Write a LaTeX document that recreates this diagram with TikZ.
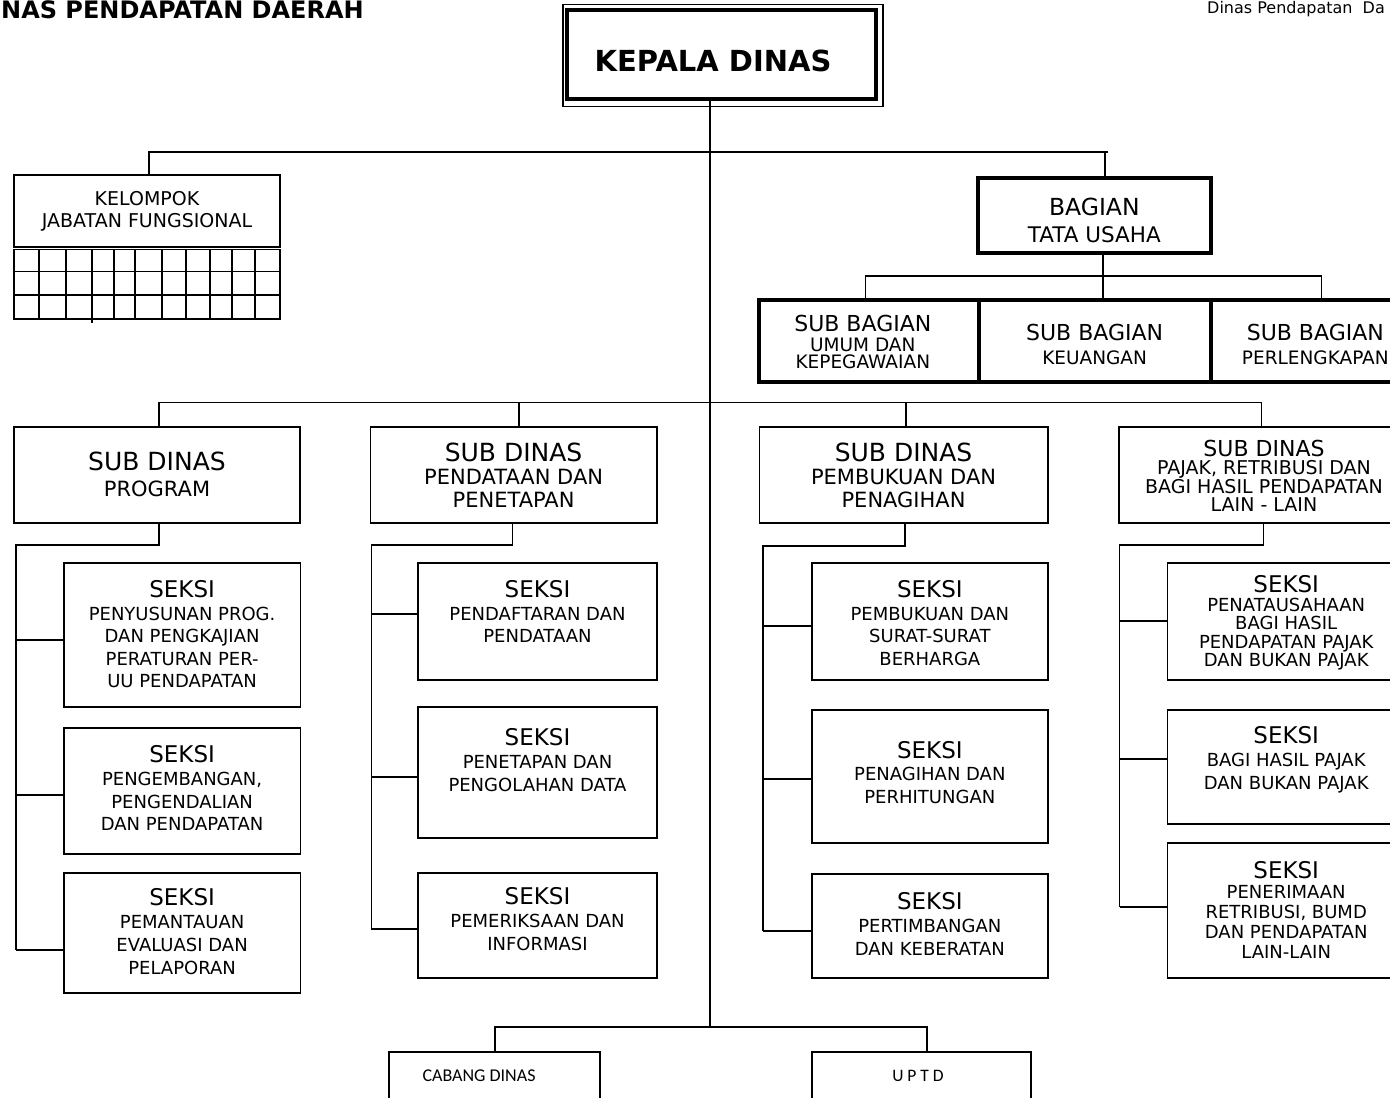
\documentclass[tikz,border=0pt]{standalone}
\usepackage{fontspec}
\setmainfont{DejaVu Sans}
\newfontfamily\cabfont{Carlito}
\usetikzlibrary{calc,positioning}
\newcommand{\fs}[2]{\fontsize{#1}{#2}\selectfont}
\newcommand{\hd}[2]{{\fontsize{#1}{#1}\selectfont #2}}
\newcommand{\orgbox}[6][]{\node[box,#1,minimum width={#4-#2},minimum height={#5-#3}] (#6) at ({(#2+#4)/2},{(#3+#5)/2}) {};}

\begin{document}
\begin{tikzpicture}[x=1pt,y=-1pt,
  box/.style={draw,line width=1.8pt,inner sep=0pt,outer sep=0pt},
  thickbox/.style={box,line width=4pt},
  link/.style={line width=1.8pt},
  txt/.style={anchor=north,align=center,inner sep=0pt}]
\useasboundingbox (0,0) rectangle (1390,1098);
\fill[white] (0,0) rectangle (1390,1098);
\clip (0,0) rectangle (1390,1098);

% header texts
\node[anchor=base west,inner sep=0pt,font=\bfseries\fs{24}{24}] (judul) at (1,18) {NAS PENDAPATAN DAERAH};
\node[anchor=base west,inner sep=0pt,font=\fs{16}{16}] (kop) at (1207,13) {Dinas Pendapatan\ \ Da};

% kepala dinas (double frame)
\orgbox[line width=1.5pt]{563}{4.5}{883}{106.5}{kadis-o}
\orgbox[thickbox]{567}{9.5}{876}{98.5}{kadis}
\node[inner sep=0pt,font=\bfseries\fs{29}{29}] (kadis-t) at (713,60.5) {KEPALA DINAS};

% kelompok jabatan fungsional + grid
\orgbox{14}{175.3}{280}{247}{kfung}
\node[txt,font=\fs{19}{22}] (kfung-t) at ([yshift=-15.8pt]kfung.north) {KELOMPOK\\JABATAN FUNGSIONAL};
\orgbox{14}{249.5}{280}{319}{kgrid}
\foreach \gy in {271.5,295} \draw[link] (14,\gy) -- (280,\gy);
\foreach \gx in {39,66,114,135,162,186,210,232,255} \draw[link] (\gx,249.5) -- (\gx,319);
\draw[link] (92,249.5) -- (92,323);

% bagian tata usaha
\orgbox[thickbox]{978}{178}{1210.6}{253}{bagtu}
\node[txt,font=\fs{21.5}{27}] (bagtu-t) at ([yshift=-20pt]bagtu.north) {\hd{23.5}{BAGIAN}\\TATA USAHA};

% sub bagian
\orgbox[thickbox]{759}{300}{978.6}{382}{sb1}
\orgbox[thickbox]{978.6}{300}{1210.6}{382}{sb2}
\orgbox[thickbox]{1210.6}{300}{1420}{382}{sb3}
\node[txt,font=\fs{18.5}{17}] (sb1-t) at ([xshift=-6pt,yshift=-15pt]sb1.north) {\hd{22}{SUB BAGIAN}\\[2.5pt]UMUM DAN\\KEPEGAWAIAN};
\node[txt,font=\fs{18.5}{24.25}] (sb2-t) at ([yshift=-24pt]sb2.north) {\hd{22}{SUB BAGIAN}\\KEUANGAN};
\node[txt,font=\fs{18.5}{24.25}] (sb3-t) at ([yshift=-24pt]sb3.north) {\hd{22}{SUB BAGIAN}\\PERLENGKAPAN};

% sub dinas
\orgbox{14}{426.7}{300}{523.3}{sd1}
\orgbox{370.5}{426.7}{656.7}{523.3}{sd2}
\orgbox{759.4}{426.7}{1047.7}{523.3}{sd3}
\orgbox{1119}{426.7}{1409}{523.3}{sd4}
\node[txt,font=\fs{21}{26.7}] (sd1-t) at ([yshift=-24.6pt]sd1.north) {\hd{25}{SUB DINAS}\\PROGRAM};
\node[txt,font=\fs{21}{23}] (sd2-t) at ([yshift=-16.2pt]sd2.north) {\hd{25}{SUB DINAS}\\PENDATAAN DAN\\PENETAPAN};
\node[txt,font=\fs{21}{23}] (sd3-t) at ([yshift=-16.2pt]sd3.north) {\hd{25}{SUB DINAS}\\PEMBUKUAN DAN\\PENAGIHAN};
\node[txt,font=\fs{19}{18.5}] (sd4-t) at ([yshift=-12.8pt]sd4.north) {\hd{22}{SUB DINAS}\\PAJAK, RETRIBUSI DAN\\BAGI HASIL PENDAPATAN\\LAIN - LAIN};

% seksi boxes
\foreach \n/\xa/\ya/\xb/\yb in {
  c1-a/63.8/563.3/300.4/707.3, c1-b/63.8/728.3/300.4/854, c1-c/63.8/873.3/300.4/992.7,
  c2-a/418.3/563.3/656.7/680, c2-b/418.3/707.3/656.7/838.3, c2-c/418.3/873.3/656.7/978.3,
  c3-a/812/563.3/1047.7/680, c3-b/812/710/1047.7/842.7, c3-c/812/874/1047.7/978.3,
  c4-a/1167.4/563.3/1405/680, c4-b/1167.4/710/1405/824.3, c4-c/1167.4/842.7/1405/978.3}
  {\orgbox{\xa}{\ya}{\xb}{\yb}{\n}}

\node[txt,font=\fs{18}{22.5}] (c1-a-t) at ([yshift=-17pt]c1-a.north) {\hd{23}{SEKSI}\\PENYUSUNAN PROG.\\DAN PENGKAJIAN\\PERATURAN PER-\\UU PENDAPATAN};
\node[txt,font=\fs{18}{22.6}] (c1-b-t) at ([yshift=-17.3pt]c1-b.north) {\hd{23}{SEKSI}\\PENGEMBANGAN,\\PENGENDALIAN\\DAN PENDAPATAN};
\node[txt,font=\fs{18}{22.8}] (c1-c-t) at ([yshift=-15.3pt]c1-c.north) {\hd{23}{SEKSI}\\PEMANTAUAN\\EVALUASI DAN\\PELAPORAN};
\node[txt,font=\fs{18}{22.5}] (c2-a-t) at ([yshift=-17pt]c2-a.north) {\hd{23}{SEKSI}\\PENDAFTARAN DAN\\PENDATAAN};
\node[txt,font=\fs{18}{23}] (c2-b-t) at ([yshift=-21.3pt]c2-b.north) {\hd{23}{SEKSI}\\PENETAPAN DAN\\PENGOLAHAN DATA};
\node[txt,font=\fs{18}{23}] (c2-c-t) at ([yshift=-14.3pt]c2-c.north) {\hd{23}{SEKSI}\\PEMERIKSAAN DAN\\INFORMASI};
\node[txt,font=\fs{18}{22.5}] (c3-a-t) at ([yshift=-17pt]c3-a.north) {\hd{23}{SEKSI}\\PEMBUKUAN DAN\\SURAT-SURAT\\BERHARGA};
\node[txt,font=\fs{18}{22.5}] (c3-b-t) at ([yshift=-31.1pt]c3-b.north) {\hd{23}{SEKSI}\\PENAGIHAN DAN\\PERHITUNGAN};
\node[txt,font=\fs{18}{23}] (c3-c-t) at ([yshift=-18.6pt]c3-c.north) {\hd{23}{SEKSI}\\PERTIMBANGAN\\DAN KEBERATAN};
\node[txt,font=\fs{18}{18.5}] (c4-a-t) at ([yshift=-12.3pt]c4-a.north) {\hd{23}{SEKSI}\\PENATAUSAHAAN\\BAGI HASIL\\PENDAPATAN PAJAK\\DAN BUKAN PAJAK};
\node[txt,font=\fs{18}{23}] (c4-b-t) at ([yshift=-16.3pt]c4-b.north) {\hd{23}{SEKSI}\\BAGI HASIL PAJAK\\DAN BUKAN PAJAK};
\node[txt,font=\fs{18}{20}] (c4-c-t) at ([yshift=-18.4pt]c4-c.north) {\hd{23}{SEKSI}\\PENERIMAAN\\RETRIBUSI, BUMD\\DAN PENDAPATAN\\LAIN-LAIN};

% cabang dinas and uptd
\orgbox{388.7}{1051.7}{600}{1120}{cab}
\orgbox{812}{1051.7}{1031}{1120}{uptd}
\node[inner sep=0pt,font=\cabfont\fs{18}{18}] (cab-t) at (479,1076) {CABANG DINAS};
\node[inner sep=0pt,font=\cabfont\fs{17.5}{17.5}] (uptd-t) at (918,1076) {U P T D};

% trunk
\coordinate (trunk) at (710,1027);
\draw[link] (kadis.south -| trunk) -- (trunk);

% first row: kelompok and bagian
\coordinate (r1l) at (149,152);
\coordinate (r1r) at (1108,152);
\draw[link] (kfung.north -| r1l) -- (r1l) -- (r1r);
\draw[link] ([xshift=11pt]bagtu.north) -- ([xshift=11pt]bagtu.north |- r1r);

% sub bagian links
\coordinate (sbl) at (865.5,276);
\coordinate (sbr) at (1321.5,276);
\draw[link] ([xshift=9pt]bagtu.south) -- ([xshift=9pt]bagtu.south |- sb2.north);
\draw[link] (sb1.north -| sbl) -- (sbl) -- (sbr) -- (sb3.north -| sbr);

% sub dinas links
\coordinate (sdl) at (159,402.5);
\coordinate (sdr) at (1261.5,402.5);
\draw[link] (sd1.north -| sdl) -- (sdl) -- (sdr) -- (sd4.north -| sdr);
\draw[link] ([xshift=5.5pt]sd2.north) -- ([xshift=5.5pt]sd2.north |- sdl);
\draw[link] ([xshift=2.5pt]sd3.north) -- ([xshift=2.5pt]sd3.north |- sdl);

% seksi buses
\foreach \c/\d/\dx/\bx/\ty/\ya/\yb/\yc in {
  c1/sd1/2/15.7/545/640/795/950,
  c2/sd2/-1.1/371.4/545/614/776.7/928.7,
  c3/sd3/1.5/763/546/625.7/778.7/930.7,
  c4/sd4/-0.6/1119.5/545/621.3/759.3/906.7}{
  \coordinate (\c-t) at (\bx,\ty);
  \coordinate (\c-ja) at (\bx,\ya);
  \coordinate (\c-jb) at (\bx,\yb);
  \coordinate (\c-jc) at (\bx,\yc);
  \draw[link] ([xshift=\dx pt]\d.south) |- (\c-t) -- (\c-jc);
  \foreach \k in {a,b,c} \draw[link] (\c-j\k) -- (\c-j\k -| \c-\k.west);
}

% cabang dinas and uptd links
\coordinate (bl) at (495,1027);
\coordinate (br) at (927,1027);
\draw[link] (cab.north -| bl) -- (bl) -- (br) -- (uptd.north -| br);
\end{tikzpicture}
\end{document}
